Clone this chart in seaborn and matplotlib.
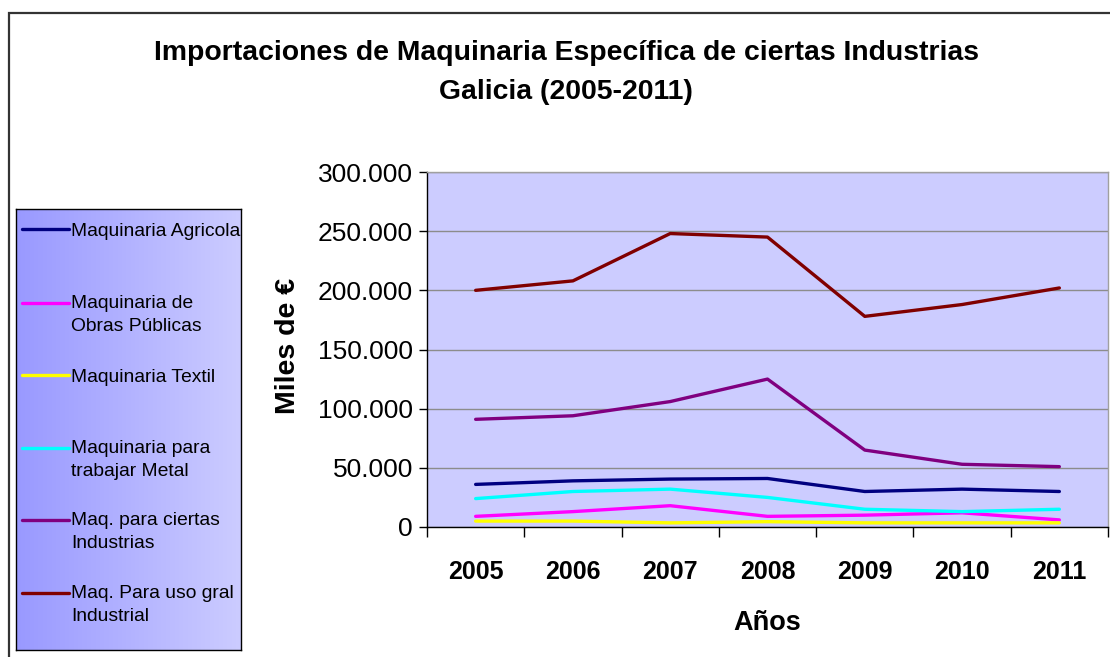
import numpy as np
import pandas as pd
import matplotlib
matplotlib.use("Agg")
import matplotlib.pyplot as plt
from matplotlib.patches import Rectangle
from matplotlib.ticker import FuncFormatter, FixedLocator
from matplotlib.colors import LinearSegmentedColormap
from matplotlib.lines import Line2D
from matplotlib.legend_handler import HandlerLine2D
from matplotlib import font_manager
import seaborn as sns

years = ["2005", "2006", "2007", "2008", "2009", "2010", "2011"]
series_names = [
    "Maquinaria Agricola",
    "Maquinaria de\nObras Públicas",
    "Maquinaria Textil",
    "Maquinaria para\ntrabajar Metal",
    "Maq. para ciertas\nIndustrias",
    "Maq. Para uso gral\nIndustrial",
]
agricola = [36000, 39000, 40500, 41000, 30000, 32000, 30000]
obras_publicas = [9000, 13000, 18000, 9000, 10000, 12000, 6000]
textil = [5000, 5000, 3500, 4500, 3500, 3500, 3500]
metal = [24000, 30000, 32000, 25000, 15000, 13000, 15000]
ciertas_ind = [91000, 94000, 106000, 125000, 65000, 53000, 51000]
uso_gral = [200000, 208000, 248000, 245000, 178000, 188000, 202000]
colors = ["#000080", "#FF00FF", "#FFFF00", "#00FFFF", "#800080", "#800000"]

values = [agricola, obras_publicas, textil, metal, ciertas_ind, uso_gral]
rows = []
for name, vals in zip(series_names, values):
    for i, v in enumerate(vals):
        rows.append({"idx": i, "serie": name, "valor": v})
df = pd.DataFrame(rows)

sns.set_theme(style="white")
plt.rcParams["font.family"] = ["Liberation Sans", "DejaVu Sans"]
plt.rcParams["text.color"] = "black"
plt.rcParams["axes.labelcolor"] = "black"
plt.rcParams["xtick.color"] = "black"
plt.rcParams["ytick.color"] = "black"

# narrow font for the year labels if available
try:
    font_manager.findfont(font_manager.FontProperties(family="Liberation Sans Narrow"),
                          fallback_to_default=False)
    year_family = ["Liberation Sans Narrow"]
    year_size = 21
except Exception:
    year_family = ["Liberation Sans", "DejaVu Sans"]
    year_size = 18


class FirstLineHandler(HandlerLine2D):
    """Line handle aligned with the first text line (shift in points)."""
    def __init__(self, shift=0.0, **kw):
        super().__init__(**kw)
        self.shift = shift

    def create_artists(self, legend, orig_handle, xdescent, ydescent, width, height,
                       fontsize, trans):
        return super().create_artists(legend, orig_handle, xdescent,
                                      ydescent - 2 * self.shift, width, height,
                                      fontsize, trans)


fig = plt.figure(figsize=(11.1, 6.57), dpi=100)
fig.patch.set_facecolor("white")

ax = fig.add_axes([427 / 1110, 1 - 527 / 657, (1108 - 427) / 1110, (527 - 172) / 657])
ax.set_facecolor("#CCCCFF")
sns.lineplot(data=df, x="idx", y="valor", hue="serie", hue_order=series_names,
             palette=colors, linewidth=2.4, ax=ax, legend=False, sort=False)

ax.set_xlim(-0.5, len(years) - 0.5)
ax.set_ylim(0, 300000)
ax.yaxis.set_major_locator(FixedLocator(np.arange(0, 300001, 50000)))
ax.yaxis.set_major_formatter(FuncFormatter(lambda v, p: "0" if v == 0 else f"{int(v):,}".replace(",", ".")))
ax.set_xticks(range(len(years)))
ax.set_xticklabels(years)
ax.set_xticks(np.arange(-0.5, len(years), 1.0), minor=True)
ax.tick_params(axis="x", which="major", length=0, pad=24)
ax.tick_params(axis="x", which="minor", length=7, width=1, color="black", direction="out", bottom=True)
ax.tick_params(axis="y", length=6, width=1, color="black", direction="out", left=True, labelsize=19, pad=4)
for lbl in ax.get_xticklabels():
    lbl.set_fontfamily(year_family)
    lbl.set_fontweight("bold")
    lbl.set_fontsize(year_size)
ax.grid(axis="y", color="#8C8C8C", linewidth=1)
ax.set_axisbelow(True)
for s in ["top", "right"]:
    ax.spines[s].set_color("#A0A0A0")
    ax.spines[s].set_linewidth(1)
for s in ["left", "bottom"]:
    ax.spines[s].set_color("black")
    ax.spines[s].set_linewidth(1)

ax.set_xlabel("Años", fontsize=19.5, fontweight="bold")
ax.set_ylabel("Miles de €", fontsize=20.5, fontweight="bold")
ax.xaxis.set_label_coords((767 - 427) / 681, (527 - 623) / 355)
ax.yaxis.set_label_coords((288 - 427) / 681, (527 - 346) / 355)
ax.xaxis.label.set_va("center")
ax.yaxis.label.set_va("center")

fig.text(566 / 1110, 1 - 53 / 657, "Importaciones de Maquinaria Específica de ciertas Industrias",
         ha="center", va="center", fontsize=20.4, fontweight="bold")
fig.text(566 / 1110, 1 - 92 / 657, "Galicia (2005-2011)",
         ha="center", va="center", fontsize=20.4, fontweight="bold")

# legend box with gradient
lx0, ly0, lw, lh = 16, 209, 225, 441
lax = fig.add_axes([lx0 / 1110, 1 - (ly0 + lh) / 657, lw / 1110, lh / 657])
grad = np.linspace(0, 1, 256).reshape(1, -1)
cmap = LinearSegmentedColormap.from_list("g", ["#9999FF", "#CCCCFF"])
lax.imshow(grad, aspect="auto", cmap=cmap, extent=[0, 1, 0, 1])
lax.set_xlim(0, 1)
lax.set_ylim(0, 1)
lax.set_xticks([])
lax.set_yticks([])
for s in lax.spines.values():
    s.set_color("black")
    s.set_linewidth(1)

entry_centers_px = [231, 315, 377, 460, 532, 605]
for name, c, yc in zip(series_names, colors, entry_centers_px):
    h = Line2D([], [], color=c, linewidth=2.4)
    two_lines = "\n" in name
    handler = FirstLineHandler(shift=8.6 if two_lines else 0.0)
    leg = lax.legend([h], [name], loc="center left",
                     bbox_to_anchor=((22 - lx0) / lw, (ly0 + lh - yc) / lh),
                     frameon=False, fontsize=13.9, handlelength=2.45, handletextpad=0.1,
                     borderpad=0, borderaxespad=0, handler_map={Line2D: handler})
    for t in leg.get_texts():
        t.set_linespacing(1.5)
        t.set_color("black")
    lax.add_artist(leg)
lax.legend_ = None

fig.add_artist(Rectangle((9 / 1110, -0.5), 2, 1.5 - 13 / 657, transform=fig.transFigure,
                         fill=False, edgecolor="#333333", linewidth=1.6))

fig.savefig("out.png", dpi=100)
